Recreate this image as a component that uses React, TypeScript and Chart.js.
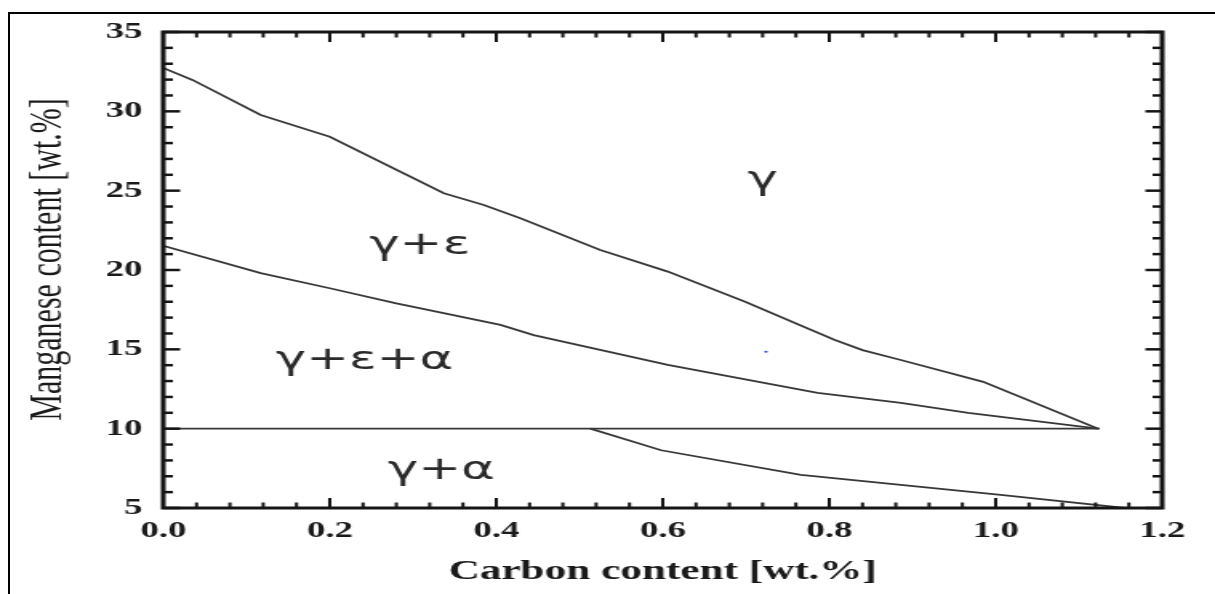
import React, { useEffect, useRef } from 'react';
import { Chart, registerables } from 'chart.js';

Chart.register(...registerables);

// ---- Data (carbon wt.% on x, manganese wt.% on y) ----
const gammaBoundaryX = [0, 0.035, 0.117, 0.2, 0.337, 0.385, 0.429, 0.525, 0.606, 0.699, 0.806, 0.84, 0.886, 0.985, 1.123];
const gammaBoundaryY = [32.73, 31.98, 29.77, 28.4, 24.84, 24.1, 23.26, 21.26, 19.9, 18.0, 15.6, 14.95, 14.33, 12.95, 10.0];

const epsAlphaBoundaryX = [0, 0.117, 0.2, 0.28, 0.405, 0.445, 0.606, 0.786, 0.886, 0.967, 1.123];
const epsAlphaBoundaryY = [21.52, 19.8, 18.85, 17.9, 16.54, 15.9, 14.02, 12.25, 11.62, 11.0, 10.0];

const tenLineX = [0, 1.125];
const tenLineY = [10, 10];

const alphaBoundaryX = [0.513, 0.598, 0.766, 1.006, 1.155];
const alphaBoundaryY = [10.0, 8.64, 7.09, 5.83, 5.0];

const strayDotX = [0.724];
const strayDotY = [14.84];

const regionLabels = ['γ', 'γ+ε', 'γ+ε+α', 'γ+α'];
const regionLabelX = [0.72, 0.308, 0.2417, 0.334];
const regionLabelY = [25.1, 21.0, 13.76, 6.83];

const xMin = 0;
const xMax = 1.2;
const xMajorStep = 0.2;
const xMinorPerMajor = 5;
const yMin = 5;
const yMax = 35;
const yMajorStep = 5;
const yMinorPerMajor = 5;

const xTitle = 'Carbon content [wt.%]';
const yTitle = '\u2002\u2009Manganese content [wt.%]';

const toPoints = (xs: number[], ys: number[]) => xs.map((x, i) => ({ x, y: ys[i] }));

const CANVAS_W = 759;
const CANVAS_H = 594;
const SERIF = '"Liberation Serif", "Times New Roman", serif';
const GREEK = '"DejaVu Sans", sans-serif';

const framePlugin = {
  id: 'phaseFrame',
  afterDatasetsDraw(chart: any) {
    const { ctx, chartArea: a, scales } = chart;
    const xs = scales.x;
    const ys = scales.y;
    ctx.save();
    ctx.strokeStyle = '#151515';
    ctx.lineCap = 'butt';
    const seg = (x1: number, y1: number, x2: number, y2: number) => {
      ctx.beginPath();
      ctx.moveTo(x1, y1);
      ctx.lineTo(x2, y2);
      ctx.stroke();
    };
    // x ticks (inward, bottom and top)
    ctx.lineWidth = 2;
    const xMinor = xMajorStep / xMinorPerMajor;
    const nx = Math.round((xMax - xMin) / xMinor);
    for (let i = 0; i <= nx; i++) {
      const px = xs.getPixelForValue(xMin + i * xMinor);
      const len = i % xMinorPerMajor === 0 ? 10 : 5.5;
      seg(px, a.bottom, px, a.bottom - len);
      seg(px, a.top, px, a.top + len);
    }
    // y ticks (inward, left and right)
    ctx.lineWidth = 2.5;
    const yMinor = yMajorStep / yMinorPerMajor;
    const ny = Math.round((yMax - yMin) / yMinor);
    for (let i = 0; i <= ny; i++) {
      const py = ys.getPixelForValue(yMin + i * yMinor);
      const len = i % yMinorPerMajor === 0 ? 10.5 : 6;
      seg(a.left, py, a.left + len, py);
      seg(a.right, py, a.right - len, py);
    }
    // plot box
    ctx.lineWidth = 3;
    ctx.strokeRect(a.left, a.top, a.right - a.left, a.bottom - a.top);
    // region labels
    ctx.fillStyle = '#2a2a2a';
    ctx.font = `32px ${GREEK}`;
    ctx.textAlign = 'center';
    ctx.textBaseline = 'alphabetic';
    regionLabels.forEach((t, i) => {
      ctx.fillText(t, xs.getPixelForValue(regionLabelX[i]), ys.getPixelForValue(regionLabelY[i]));
    });
    ctx.restore();
  },
};

export default function App() {
  const ref = useRef<HTMLCanvasElement | null>(null);

  useEffect(() => {
    const canvas = ref.current;
    if (!canvas) return;
    const lineStyle = {
      showLine: true,
      borderColor: '#383838',
      borderWidth: 1.8,
      pointRadius: 0,
      tension: 0,
      fill: false,
    };
    const chart = new Chart(canvas, {
      type: 'scatter',
      data: {
        datasets: [
          { label: 'γ / γ+ε', data: toPoints(gammaBoundaryX, gammaBoundaryY), ...lineStyle },
          { label: 'γ+ε / γ+ε+α', data: toPoints(epsAlphaBoundaryX, epsAlphaBoundaryY), ...lineStyle },
          { label: '10 wt.%', data: toPoints(tenLineX, tenLineY), ...lineStyle },
          { label: 'γ+α', data: toPoints(alphaBoundaryX, alphaBoundaryY), ...lineStyle },
          {
            label: 'dot',
            data: toPoints(strayDotX, strayDotY),
            showLine: false,
            pointRadius: 1,
            pointBorderWidth: 0,
            backgroundColor: '#2233dd',
            borderColor: '#2233dd',
          },
        ],
      },
      options: {
        animation: false,
        responsive: false,
        devicePixelRatio: 1,
        layout: { padding: { left: 0, right: 33, top: 32, bottom: 0 } },
        plugins: {
          legend: { display: false },
          tooltip: { enabled: false },
        },
        scales: {
          x: {
            type: 'linear',
            min: xMin,
            max: xMax,
            grid: { display: false, drawTicks: false },
            border: { display: false },
            ticks: {
              stepSize: xMajorStep,
              maxRotation: 0,
              padding: 9,
              color: '#1a1a1a',
              font: { family: SERIF, weight: 'bold', size: 23 },
              callback: (v: any) => Number(v).toFixed(1),
            },
            title: {
              display: true,
              text: xTitle,
              color: '#1a1a1a',
              font: { family: SERIF, weight: 'bold', size: 27 },
              padding: { top: 0, bottom: 6 },
            },
            afterFit: (s: any) => {
              s.height = 86;
            },
          },
          y: {
            type: 'linear',
            min: yMin,
            max: yMax,
            grid: { display: false, drawTicks: false },
            border: { display: false },
            ticks: {
              stepSize: yMajorStep,
              padding: 13,
              color: '#1a1a1a',
              font: { family: SERIF, weight: 'bold', size: 23 },
            },
            title: {
              display: true,
              text: yTitle,
              color: '#1a1a1a',
              font: { family: SERIF, weight: 'normal', size: 30 },
              padding: { top: 12, bottom: 0 },
            },
            afterFit: (s: any) => {
              s.width = 102;
            },
          },
        },
      },
      plugins: [framePlugin],
    } as any);
    return () => chart.destroy();
  }, []);

  return (
    <div
      style={{
        position: 'fixed',
        left: 0,
        top: 0,
        width: 1215,
        height: 594,
        background: '#fff',
        overflow: 'hidden',
      }}
    >
      <div
        style={{
          position: 'absolute',
          left: 8,
          top: 12,
          width: 1207,
          height: 582,
          borderLeft: '2px solid #000',
          borderTop: '2px solid #000',
          boxSizing: 'border-box',
        }}
      />
      <canvas
        ref={ref}
        width={CANVAS_W}
        height={CANVAS_H}
        style={{ position: 'absolute', left: 0, top: 0, width: '1215px', height: '594px' }}
      />
    </div>
  );
}
